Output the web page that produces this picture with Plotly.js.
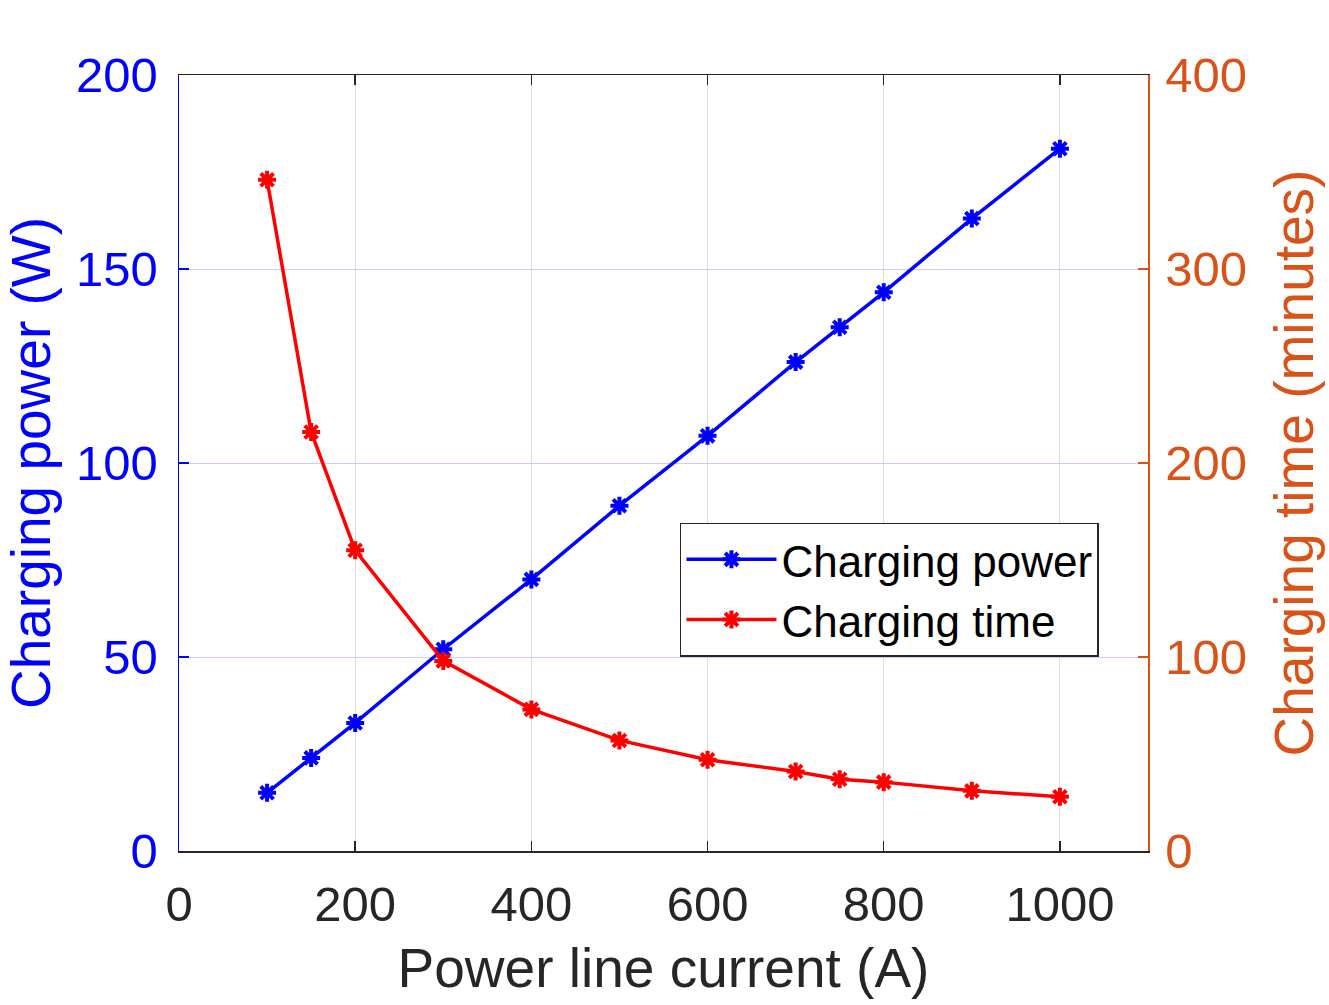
<!DOCTYPE html>
<html><head><meta charset="utf-8">
<script src="https://cdn.plot.ly/plotly-3.0.1.min.js"></script>
<style>html,body{margin:0;padding:0;background:#fff}#chart{width:1329px;height:1005px}</style>
</head><body><div id="chart"></div>
<script>
const current = [100, 150, 200, 300, 400, 500, 600, 700, 750, 800, 900, 1000];
const chargingPower = [15, 24, 33, 52, 70, 89, 107, 126, 135, 144, 163, 181];
const chargingTime = [346, 216, 155, 98, 73, 57, 47, 41, 37, 35.5, 31, 28];
const xTicks = [0, 200, 400, 600, 800, 1000];
const yTicks = [0, 50, 100, 150, 200];
const y2Ticks = [0, 100, 200, 300, 400];

const font = "Liberation Sans, Arial, sans-serif";
const blue = "#0000FF", red = "#FF0000", orange = "#D95319", dark = "#262626";

const traces = [
  {x: current, y: chargingPower, name: "Charging power", type: "scatter", mode: "lines+markers",
   line: {color: blue, width: 3.5},
   marker: {symbol: "asterisk-open", size: 15, color: blue, line: {color: blue, width: 4}}},
  {x: current, y: chargingTime, name: "Charging time", type: "scatter", mode: "lines+markers", yaxis: "y2",
   line: {color: red, width: 3.5},
   marker: {symbol: "asterisk-open", size: 15, color: red, line: {color: red, width: 4}}}
];

const layout = {
  width: 1329, height: 1005,
  margin: {l: 179, r: 181, t: 75, b: 154},
  paper_bgcolor: "#fff", plot_bgcolor: "#fff",
  font: {family: font, size: 48, color: dark},
  showlegend: true,
  legend: {x: 0.517, y: 0.423, xanchor: "left", yanchor: "top",
    bordercolor: dark, borderwidth: 1.5, bgcolor: "#fff",
    font: {family: font, size: 44, color: "#000"}, tracegroupgap: 0, itemwidth: 90},
  xaxis: {range: [0, 1100], tickvals: xTicks, ticks: "inside", ticklen: 10, tickwidth: 1.5,
    tickcolor: dark, showline: true, linecolor: dark, linewidth: 1.5, mirror: "ticks",
    showgrid: true, gridcolor: "#dfdfdf", gridwidth: 1, zeroline: false,
    ticklabelstandoff: 10,
    tickfont: {family: font, size: 49, color: dark},
    title: {text: "Power line current (A)", font: {family: font, size: 55, color: dark}, standoff: 18}},
  yaxis: {range: [0, 200], tickvals: yTicks, ticks: "inside", ticklen: 10, tickwidth: 1.5,
    tickcolor: blue, showline: true, linecolor: blue, linewidth: 1.5,
    showgrid: true, gridcolor: "#ccccff", gridwidth: 1, zeroline: false,
    ticklabelstandoff: 10,
    tickfont: {family: font, size: 49, color: blue},
    title: {text: "Charging power (W)", font: {family: font, size: 55, color: blue}, standoff: 8}},
  yaxis2: {range: [0, 400], tickvals: y2Ticks, overlaying: "y", side: "right", anchor: "x",
    ticks: "inside", ticklen: 10, tickwidth: 1.5, tickcolor: orange,
    showline: true, linecolor: orange, linewidth: 1.5, showgrid: false, zeroline: false,
    ticklabelstandoff: 6,
    tickfont: {family: font, size: 49, color: orange},
    title: {text: "Charging time (minutes)", font: {family: font, size: 55, color: orange}, standoff: 28}}
};

Plotly.newPlot("chart", traces, layout, {displayModeBar: false, staticPlot: true});
</script>
</body></html>
